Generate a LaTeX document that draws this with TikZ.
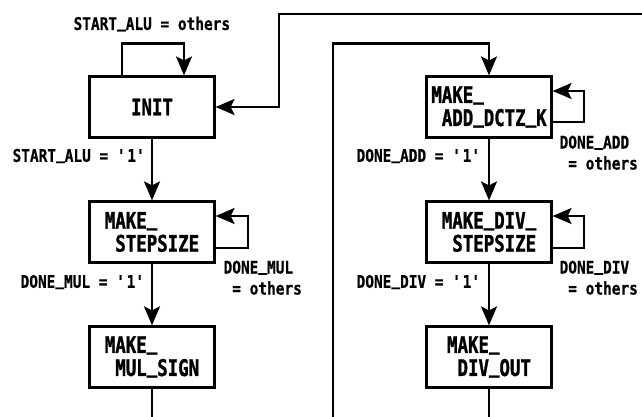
\documentclass[tikz,border=0pt]{standalone}
\usepackage{fontspec}
\newfontfamily\gothicB[FakeStretch=0.76,FakeBold=1.2]{DejaVu Sans Mono}
\newfontfamily\gothicL[FakeStretch=0.83,FakeBold=0.6]{DejaVu Sans Mono}
\newcommand\us{\raisebox{0.16em}{\_}}
\usetikzlibrary{arrows.meta}
\begin{document}
\begin{tikzpicture}[x=1pt,y=-1pt,line width=2.2pt,
  state/.style={draw,line width=2.2pt,minimum width=125pt,minimum height=61pt,inner sep=0pt,align=left,
    font=\gothicB\bfseries\fontsize{22.9}{23}\selectfont},
  lbl/.style={inner sep=0pt,align=left,font=\gothicL\bfseries\fontsize{17.4}{21}\selectfont},
  arr/.style={-{Stealth[length=19pt,width=16pt,inset=4pt]}}]
\useasboundingbox (0,0) rectangle (642,416);
\fill[white] (0,0) rectangle (642,416);

% states
\node[state] (init) at (152,107) {INIT};
\node[state] (step) at (152,232) {MAKE\us\\\phantom{X}STEPSIZE};
\node[state] (mul)  at (152,357) {MAKE\us\\\phantom{X}MUL\us SIGN};
\node[state] (add)  at (489,107) {MAKE\us\\\phantom{X}ADD\us DCTZ\us K};
\node[state] (divs) at (489,232) {MAKE\us DIV\us\\\phantom{X}STEPSIZE};
\node[state] (divo) at (489,357) {MAKE\us\\\phantom{X}DIV\us OUT};

% free ends
\coordinate (tr) at (643,14);
\coordinate (rb) at (333,417);
\coordinate (mb) at (152,417);
\coordinate (db) at (489,417);

% transitions
\draw[arr] ([xshift=-30pt]init.north) |- ([xshift=32pt,yshift=32pt]init.north) -- ([xshift=32pt]init.north);
\draw[arr] (init) -- (step);
\draw[arr] ([yshift=-16pt]step.east) -- ++(32,0) |- ([yshift=16pt]step.east);
\draw[arr] (step) -- (mul);
\draw (mul.south) -- (mb);

\draw[arr] (tr) -| ([xshift=63pt]init.east) -- (init.east);
\draw[arr] (rb) |- ([yshift=32pt]add.north) -- (add.north);
\draw[arr] ([yshift=-15pt]add.east) -- ++(31,0) |- ([yshift=16pt]add.east);
\draw[arr] (add) -- (divs);
\draw[arr] ([yshift=-16pt]divs.east) -- ++(31,0) |- ([yshift=16pt]divs.east);
\draw[arr] (divs) -- (divo);
\draw (divo.south) -- (db);

% labels
\node[lbl,anchor=west] (l1) at (72.5,24) {START\us ALU = others};
\node[lbl,anchor=west] (l2) at (11.5,156) {START\us ALU = \textquotesingle1\textquotesingle};
\node[lbl,anchor=west] (l3) at (19.5,282) {DONE\us MUL = \textquotesingle1\textquotesingle};
\node[lbl,anchor=north west] (l4) at (222.5,259.5) {DONE\us MUL\\\phantom{X}= others};
\node[lbl,anchor=west] (l5) at (355.5,156) {DONE\us ADD = \textquotesingle1\textquotesingle};
\node[lbl,anchor=north west] (l6) at (558.5,134.5) {DONE\us ADD\\\phantom{X}= others};
\node[lbl,anchor=west] (l7) at (355.5,282) {DONE\us DIV = \textquotesingle1\textquotesingle};
\node[lbl,anchor=north west] (l8) at (558.5,259.5) {DONE\us DIV\\\phantom{X}= others};
\end{tikzpicture}
\end{document}
